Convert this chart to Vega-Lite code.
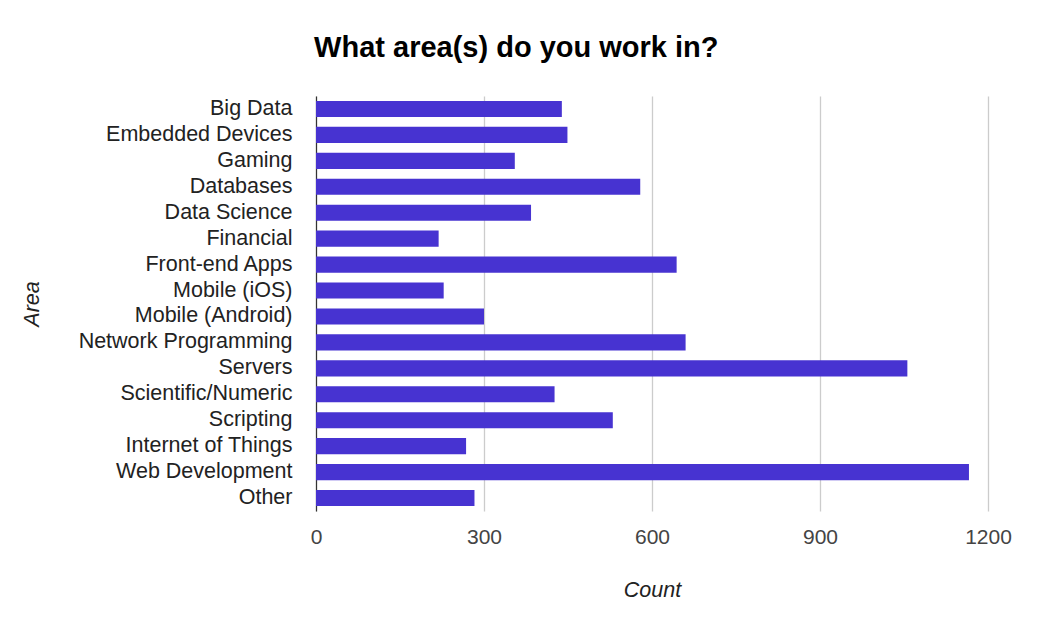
{
  "$schema": "https://vega.github.io/schema/vega-lite/v6.json",
  "autosize": "none",
  "width": 672,
  "height": 415,
  "padding": {"left": 316, "top": 96, "right": 56, "bottom": 107},
  "background": "white",
  "config": {
    "view": {"stroke": null},
    "font": "Liberation Sans"
  },
  "title": {
    "text": "What area(s) do you work in?",
    "font": "Liberation Sans",
    "fontSize": 29,
    "fontWeight": "bold",
    "color": "#000000",
    "anchor": "middle",
    "frame": "bounds",
    "baseline": "alphabetic",
    "offset": 10
  },
  "data": {
    "values": [
      {"area": "Big Data", "count": 439},
      {"area": "Embedded Devices", "count": 449},
      {"area": "Gaming", "count": 355},
      {"area": "Databases", "count": 579},
      {"area": "Data Science", "count": 384},
      {"area": "Financial", "count": 219},
      {"area": "Front-end Apps", "count": 644},
      {"area": "Mobile (iOS)", "count": 228},
      {"area": "Mobile (Android)", "count": 300},
      {"area": "Network Programming", "count": 660},
      {"area": "Servers", "count": 1056},
      {"area": "Scientific/Numeric", "count": 426},
      {"area": "Scripting", "count": 530},
      {"area": "Internet of Things", "count": 268},
      {"area": "Web Development", "count": 1166},
      {"area": "Other", "count": 283}
    ]
  },
  "mark": {"type": "bar", "color": "#4733d1"},
  "encoding": {
    "y": {
      "field": "area",
      "type": "nominal",
      "sort": null,
      "scale": {"paddingInner": 0.38, "paddingOuter": 0.19},
      "axis": {
        "title": "Area",
        "titleFont": "Liberation Sans",
        "titleFontSize": 21.5,
        "titleFontStyle": "italic",
        "titleFontWeight": "normal",
        "titleColor": "#222222",
        "titleAngle": -90,
        "titleBaseline": "alphabetic",
        "titleAlign": "center",
        "titleX": -277.7,
        "titleY": 207.5,
        "labelFont": "Liberation Sans",
        "labelFontSize": 21.5,
        "labelColor": "#222222",
        "labelPadding": 24,
        "labelLimit": 400,
        "ticks": false,
        "tickSize": 0,
        "domain": true,
        "domainColor": "#333333",
        "domainWidth": 1.2,
        "grid": false
      }
    },
    "x": {
      "field": "count",
      "type": "quantitative",
      "scale": {"domain": [0, 1200], "nice": false},
      "axis": {
        "title": "Count",
        "titleFont": "Liberation Sans",
        "titleFontSize": 21.5,
        "titleFontStyle": "italic",
        "titleFontWeight": "normal",
        "titleColor": "#222222",
        "titleBaseline": "alphabetic",
        "titleX": 336,
        "titleY": 85,
        "values": [0, 300, 600, 900, 1200],
        "format": "d",
        "labelFont": "Liberation Sans",
        "labelFontSize": 21,
        "labelColor": "#444444",
        "labelBaseline": "alphabetic",
        "labelPadding": 32,
        "labelFlush": false,
        "ticks": false,
        "tickSize": 0,
        "domain": false,
        "grid": true,
        "gridColor": "#cccccc",
        "gridWidth": 1.3
      }
    }
  }
}
